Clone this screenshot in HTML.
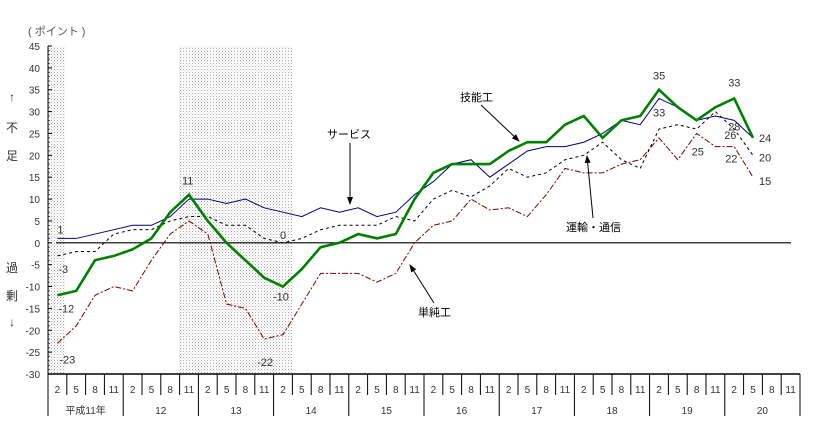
<!DOCTYPE html>
<html><head><meta charset="utf-8"><style>
body{margin:0;background:#fff;}
svg{display:block;font-family:"Liberation Sans","Noto Sans CJK JP",sans-serif;}
</style></head><body>
<svg id="chart" width="826" height="425" viewBox="0 0 826 425" xmlns="http://www.w3.org/2000/svg">
<defs>
<pattern id="dots" width="3" height="3" patternUnits="userSpaceOnUse"><rect width="3" height="3" fill="#fff"/><rect width="1" height="1" fill="#aaa"/><rect x="1.5" y="1.5" width="1" height="1" fill="#ccc"/></pattern>
<marker id="ah" markerWidth="8" markerHeight="8" refX="7" refY="4" orient="auto"><path d="M0,1 L8,4 L0,7 z" fill="#000"/></marker>
</defs>
<g id="shade"></g>
<g id="axes"></g>
<g id="series"></g>
<g id="labels" font-size="11" fill="#333"></g>
<text x="28" y="35" font-size="11" fill="#555">( ポイント )</text>
<g font-size="12" fill="#333" text-anchor="middle">
<text x="12" y="101">↑</text><text x="12" y="132">不</text><text x="12" y="160">足</text>
<text x="12" y="272">過</text><text x="12" y="300">剰</text><text x="12" y="326">↓</text>
</g>
<g font-size="11" fill="#000">
<text x="327" y="138">サービス</text>
<line x1="350" y1="143" x2="350" y2="204" stroke="#000" marker-end="url(#ah)"/>
<text x="460" y="101">技能工</text>
<line x1="481" y1="105" x2="519" y2="141" stroke="#000" marker-end="url(#ah)"/>
<text x="566" y="231">運輸・通信</text>
<line x1="593" y1="218" x2="587" y2="156" stroke="#000" marker-end="url(#ah)"/>
<text x="418" y="316">単純工</text>
<line x1="434" y1="303" x2="410" y2="265" stroke="#000" marker-end="url(#ah)"/>
</g>
</svg>
<script>
const months=["2","5","8","11"];
const years=["平成11年","12","13","14","15","16","17","18","19","20"];
const yTicks=[45,40,35,30,25,20,15,10,5,0,-5,-10,-15,-20,-25,-30];
const service=[1,1,2,3,4,4,6,10,10,9,10,8,7,6,8,7,8,6,7,11,14,18,19,15,18,21,22,22,23,25,28,27,33,31,28,29,28,24];
const skilled=[-12,-11,-4,-3,-1.5,1,7,11,5,0,-4,-8,-10,-6,-1,0,2,1,2,10,16,18,18,18,21,23,23,27,29,24,28,29,35,31,28,31,33,24];
const transport=[-3,-2,-2,2,3,3,5,6,6,4,4,1,0,1,3,4,4,4,6,5,10,12,10.5,13,17,15,16,19,20,23,19,17,26,27,26,30,26,20];
const unskilled=[-23,-19,-12,-10,-11,-4,2,5,2,-14,-15,-22,-21,-14,-7,-7,-7,-9,-7,0,4,5,10,7.5,8,6,11,17,16,16,18,19,24,19,25,22,22,15];
const pointLabels=[["1",0,1,0,-5],["-3",0,-3,1,17],["-12",0,-12,1,17],["-23",0,-23,2,20],["11",7,11,-7,-10],["0",12,0,-3,-4],["-10",12,-10,-10,14],["-22",11,-22,-7,27],["35",32,35,-6,-10],["33",32,33,-6,18],["33",36,33,-6,-12],["28",36,28,-6,10],["26",36,26,-10,10],["25",34,25,-5,22],["22",36,22,-9,16],["24",37,24,6,4],["20",37,20,6,6],["15",37,15,6,8]];
const X0=48,X1=800,N=40,CW=(X1-X0)/N,Y45=46,Ym30=374;
const xs=i=>X0+CW*(i+0.5);
const ys=v=>Y45+(45-v)*(Ym30-Y45)/75;
const NS="http://www.w3.org/2000/svg";
function mk(tag,attrs,parent){const e=document.createElementNS(NS,tag);for(const k in attrs)e.setAttribute(k,attrs[k]);parent.appendChild(e);return e;}
const shade=document.getElementById('shade'),axes=document.getElementById('axes'),ser=document.getElementById('series'),lab=document.getElementById('labels');
let s1=mk('rect',{x:X0,y:Y45,width:17,height:Ym30-Y45,fill:'url(#dots)'},shade);


let s2=mk('rect',{x:179,y:Y45,width:113,height:Ym30-Y45,fill:'url(#dots)'},shade);


let ya=mk('line',{x1:X0,y1:Y45,x2:X0,y2:416,stroke:'#000'},axes);


yTicks.forEach(v=>{
 const y=ys(v);
 mk('line',{x1:X0,y1:y,x2:X0+4,y2:y,stroke:'#000'},axes);
 const t=mk('text',{x:40,y:y+4,'font-size':10,'text-anchor':'end',fill:'#333'},axes);t.textContent=v;
 
 
});
for(let v=-30;v<45;v+=1){const y=ys(v);mk('line',{x1:X0,y1:y,x2:X0+2,y2:y,stroke:'#000','stroke-width':0.6},axes);}
let zl=mk('line',{x1:56,y1:ys(0),x2:791,y2:ys(0),stroke:'#000','stroke-width':1.2},axes);


let xa=mk('line',{x1:X0,y1:Ym30,x2:X1,y2:Ym30,stroke:'#000','stroke-width':1.5},axes);


for(let i=0;i<N;i++){
 const x=X0+CW*(i+1);
 mk('line',{x1:x,y1:Ym30,x2:x,y2:(i%4==3)?416:395,stroke:'#000'},axes);
 const t=mk('text',{x:xs(i),y:393,'font-size':10,'text-anchor':'middle',fill:'#333'},axes);t.textContent=months[i%4];
 
 
}
years.forEach((y,k)=>{const t=mk('text',{x:X0+CW*(4*k+2),y:414,'font-size':10,'text-anchor':'middle',fill:'#333'},axes);t.textContent=y;
 
 });
function line(data,attrs,name){
 const p=mk('polyline',Object.assign({points:data.map((v,i)=>xs(i)+','+ys(v)).join(' '),fill:'none'},attrs),ser);
 
 
}
line(unskilled,{stroke:'#800000','stroke-width':1,'stroke-dasharray':'6,2,2,2'},'unskilled-line');
line(transport,{stroke:'#000','stroke-width':1,'stroke-dasharray':'3,3'},'transport-line');
line(service,{stroke:'#000080','stroke-width':1},'service-line');
line(skilled,{stroke:'#008000','stroke-width':2.6},'skilled-line');
pointLabels.forEach(l=>{const t=mk('text',{x:xs(l[1])+l[3],y:ys(l[2])+l[4]},lab);t.textContent=l[0];
 
 });
</script>
</body></html>
